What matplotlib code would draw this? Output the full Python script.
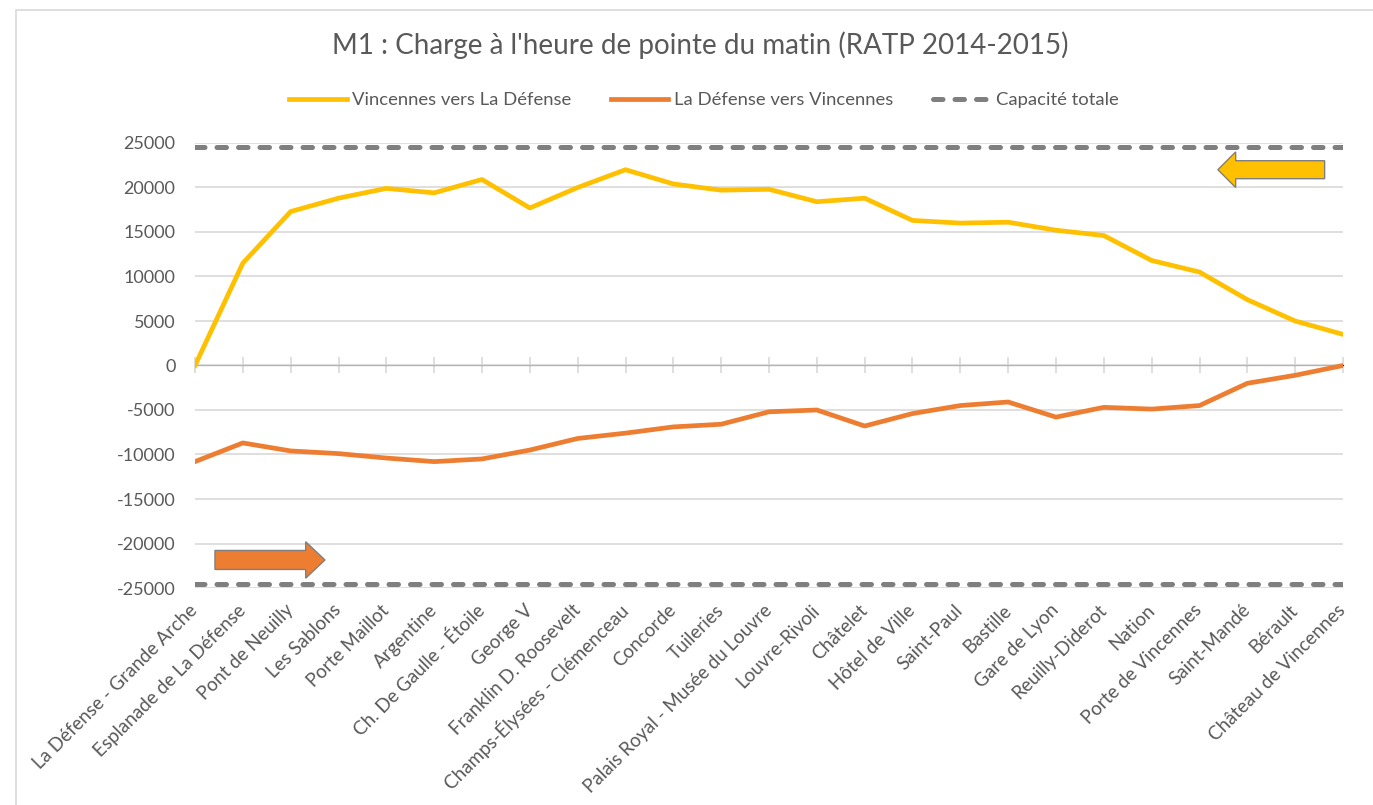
import matplotlib
matplotlib.use("Agg")
import matplotlib.pyplot as plt
from matplotlib.lines import Line2D
from matplotlib.patches import Polygon, Rectangle

stations = [
    "La Défense - Grande Arche", "Esplanade de La Défense", "Pont de Neuilly",
    "Les Sablons", "Porte Maillot", "Argentine", "Ch. De Gaulle - Étoile",
    "George V", "Franklin D. Roosevelt", "Champs-Élysées - Clémenceau",
    "Concorde", "Tuileries", "Palais Royal - Musée du Louvre", "Louvre-Rivoli",
    "Châtelet", "Hôtel de Ville", "Saint-Paul", "Bastille", "Gare de Lyon",
    "Reuilly-Diderot", "Nation", "Porte de Vincennes", "Saint-Mandé",
    "Bérault", "Château de Vincennes",
]

vers_la_defense = [
    0, 11500, 17300, 18800, 19900, 19400, 20900, 17700, 20000, 22000,
    20400, 19700, 19800, 18400, 18800, 16300, 16000, 16100, 15200, 14600,
    11800, 10500, 7400, 5000, 3500,
]

vers_vincennes = [
    -10800, -8700, -9600, -9900, -10400, -10800, -10500, -9500, -8200, -7600,
    -6900, -6600, -5200, -5000, -6800, -5400, -4500, -4100, -5800, -4700,
    -4900, -4500, -2000, -1100, 0,
]

capacite = 24500
y_ticks = [25000, 20000, 15000, 10000, 5000, 0, -5000, -10000, -15000, -20000, -25000]

TEXT = "#595959"
GRID = "#D9D9D9"
YELLOW = "#FFC000"
ORANGE = "#ED7D31"
GREY = "#7F7F7F"

plt.rcParams["font.family"] = ["Lato", "DejaVu Sans"]

fig = plt.figure(figsize=(13.73, 8.05), dpi=100)
fig.patch.set_facecolor("white")

# chart frame
fig.patches.append(Rectangle((16 / 1373, -0.2), 1.5, 1.2 - 10 / 805,
                             transform=fig.transFigure, facecolor="none",
                             edgecolor=GRID, linewidth=1.2, zorder=0))

ax = fig.add_axes([195 / 1373, 1 - 588 / 805, 1148 / 1373, 445 / 805])
x = list(range(len(stations)))

ax.set_xlim(0, len(stations) - 1)
ax.set_ylim(-25000, 25000)
ax.set_yticks(y_ticks)
ax.set_yticklabels([str(v) for v in y_ticks])
ax.grid(axis="y", color=GRID, linewidth=1.2, zorder=0)
ax.set_axisbelow(True)
for s in ax.spines.values():
    s.set_visible(False)
ax.tick_params(axis="y", length=0, pad=14, labelsize=13, labelcolor=TEXT)

ax.set_xticks(x)
ax.set_xticklabels(stations, rotation=45, ha="right", rotation_mode="anchor",
                   va="center")
ax.tick_params(axis="x", length=0, pad=14, labelsize=13.5, labelcolor=TEXT)

# category axis crossing at zero
zero_axis = ax.secondary_xaxis(0.5)
zero_axis.set_xticks(x)
zero_axis.set_xticklabels([])
zero_axis.tick_params(axis="x", direction="inout", length=11, width=1.2,
                      color=GRID)
zero_axis.spines["bottom"].set_color(GRID)
zero_axis.spines["bottom"].set_linewidth(1.2)

dash_style = dict(color=GREY, linewidth=3.6, linestyle=(0, (1.9, 2.4)),
                  dash_capstyle="round")
ax.plot(x, [capacite] * len(x), zorder=3, **dash_style)
ax.plot(x, [-capacite] * len(x), zorder=3, **dash_style)

ax.plot(x, vers_la_defense, color=YELLOW, linewidth=3.4, zorder=4,
        solid_joinstyle="round")
ax.plot(x, vers_vincennes, color=ORANGE, linewidth=3.4, zorder=4,
        solid_joinstyle="round")


def block_arrow(tail, tip, yc, body_h, head_h, head_len):
    d = 1 if tip > tail else -1
    base = tip - d * head_len
    pts = [(tail, yc - body_h / 2), (base, yc - body_h / 2),
           (base, yc - head_h / 2), (tip, yc), (base, yc + head_h / 2),
           (base, yc + body_h / 2), (tail, yc + body_h / 2)]
    return pts


ax.add_patch(Polygon(block_arrow(0.984, 0.891, 0.940, 0.0404, 0.080, 0.0155),
                     closed=True, transform=ax.transAxes, facecolor=YELLOW,
                     edgecolor=GREY, linewidth=1.0, zorder=5))
ax.add_patch(Polygon(block_arrow(0.0174, 0.1132, 0.063, 0.0427, 0.082, 0.0168),
                     closed=True, transform=ax.transAxes, facecolor=ORANGE,
                     edgecolor=GREY, linewidth=1.0, zorder=5))

fig.text(700 / 1373, 1 - 45 / 805,
         "M1 : Charge à l'heure de pointe du matin (RATP 2014-2015)",
         ha="center", va="center", fontsize=20, color=TEXT)

handles = [
    Line2D([], [], color=YELLOW, linewidth=3.4),
    Line2D([], [], color=ORANGE, linewidth=3.4),
    Line2D([], [], **dash_style),
]
labels = ["Vincennes vers La Défense", "La Défense vers Vincennes", "Capacité totale"]
leg = fig.legend(handles, labels, loc="center",
                 bbox_to_anchor=(704 / 1373, 1 - 100 / 805),
                 ncol=3, frameon=False, fontsize=13.3, handlelength=3.1,
                 handletextpad=0.3, columnspacing=2.15, labelcolor=TEXT)

fig.savefig("out.png", dpi=100, facecolor="white")
